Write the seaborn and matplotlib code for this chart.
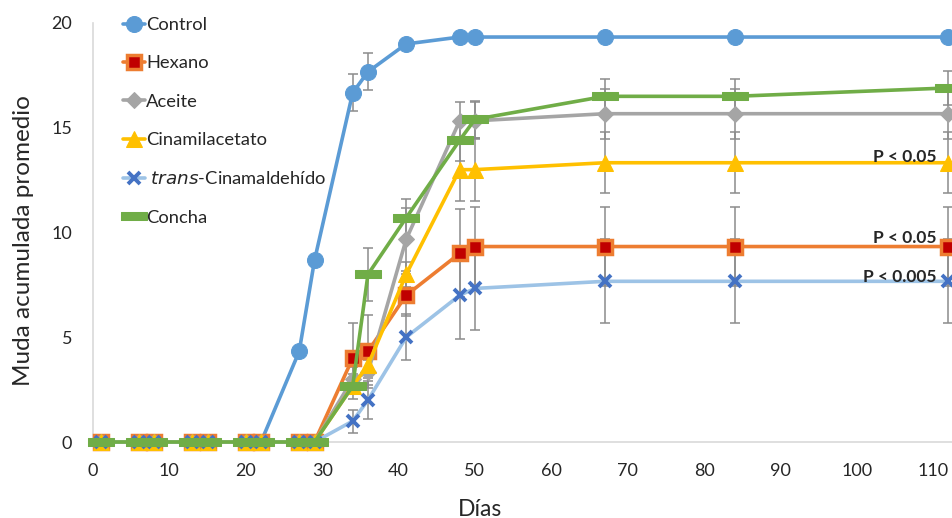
import seaborn as sns
import pandas as pd
import matplotlib.pyplot as plt

# days of observation
days = [1, 6, 8, 13, 15, 20, 22, 27, 29, 34, 36, 41, 48, 50, 67, 84, 112]

control = [0, 0, 0, 0, 0, 0, 0, 4.33, 8.67, 16.67, 17.67, 19.0, 19.33, 19.33, 19.33, 19.33, 19.33]
hexano = [0, 0, 0, 0, 0, 0, 0, 0, 0, 4.0, 4.33, 7.0, 9.0, 9.33, 9.33, 9.33, 9.33]
aceite = [0, 0, 0, 0, 0, 0, 0, 0, 0, 3.0, 3.33, 9.67, 15.33, 15.33, 15.67, 15.67, 15.67]
cinamilacetato = [0, 0, 0, 0, 0, 0, 0, 0, 0, 2.67, 3.67, 8.0, 13.0, 13.0, 13.33, 13.33, 13.33]
trans_cin = [0, 0, 0, 0, 0, 0, 0, 0, 0, 1.0, 2.0, 5.0, 7.0, 7.33, 7.67, 7.67, 7.67]
concha = [0, 0, 0, 0, 0, 0, 0, 0, 0, 2.67, 8.0, 10.7, 14.4, 15.4, 16.5, 16.5, 16.9]

# standard errors
err_control = [0, 0, 0, 0, 0, 0, 0, 0, 0, 0.88, 0.88, 0, 0, 0, 0, 0, 0]
err_hexano = [0, 0, 0, 0, 0, 0, 0, 0, 0, 1.7, 1.75, 1.0, 2.1, 1.9, 1.9, 1.9, 1.9]
err_aceite = [0, 0, 0, 0, 0, 0, 0, 0, 0, 0.6, 0.6, 1.5, 0.88, 0.88, 1.2, 1.2, 1.2]
err_cinamil = [0, 0, 0, 0, 0, 0, 0, 0, 0, 0.6, 0.6, 0.6, 1.5, 1.5, 1.45, 1.45, 1.45]
err_trans = [0, 0, 0, 0, 0, 0, 0, 0, 0, 0.55, 0.9, 1.1, 2.1, 2.0, 2.0, 2.0, 2.0]
err_concha = [0, 0, 0, 0, 0, 0, 0, 0, 0, 0.3, 1.25, 0.9, 1.0, 0.9, 0.83, 0.83, 0.83]

p_labels = ["P < 0.05", "P < 0.05", "P < 0.005"]
p_y = [13.62, 9.72, 7.9]

rect = [(-3, -1), (3, -1), (3, 1), (-3, 1), (-3, -1)]

series = [
    ("Control", control, err_control, dict(color="#5B9BD5", marker="o", markersize=11.5,
                                           markeredgecolor="#5B9BD5")),
    ("Hexano", hexano, err_hexano, dict(color="#ED7D31", marker="s", markersize=10,
                                        markerfacecolor="#C00000", markeredgecolor="#ED7D31",
                                        markeredgewidth=2.5)),
    ("Aceite", aceite, err_aceite, dict(color="#A5A5A5", marker="D", markersize=8,
                                        markeredgecolor="#A5A5A5")),
    ("Cinamilacetato", cinamilacetato, err_cinamil, dict(color="#FFC000", marker="^", markersize=11,
                                                         markeredgecolor="#FFC000")),
    (" $\\it{trans}$-Cinamaldehído", trans_cin, err_trans, dict(color="#9DC3E6", marker="x", markersize=9,
                                                                markeredgecolor="#4472C4",
                                                                markeredgewidth=2.8)),
    ("Concha", concha, err_concha, dict(color="#70AD47", marker=rect, markersize=19,
                                        markeredgecolor="#70AD47")),
]

sns.set_style("white")
plt.rcParams["font.family"] = ["Lato", "DejaVu Sans"]

fig = plt.figure(figsize=(9.53, 5.18), dpi=100)
ax = fig.add_axes([0.0976, 0.1467, 0.9024, 0.8089])

for i, (name, vals, err, style) in enumerate(series):
    df = pd.DataFrame({"dia": days, "muda": vals})
    ax.errorbar(days, vals, yerr=err, fmt="none", ecolor="#8C8C8C", elinewidth=1.1,
                capsize=3.5, capthick=1.1, zorder=2 + i * 0.1, clip_on=False)
    sns.lineplot(data=df, x="dia", y="muda", ax=ax, lw=2.6, label=name, errorbar=None,
                 clip_on=False, zorder=3 + i * 0.1, **style)

ax.set_xlim(0, 112.6)
ax.set_ylim(0, 20)
ax.set_xticks(range(0, 111, 10))
ax.set_yticks([0, 5, 10, 15, 20])
ax.tick_params(axis="x", labelsize=13, length=0, pad=15)
ax.tick_params(axis="y", labelsize=13, length=0, pad=15)
ax.set_xlabel("Días", fontsize=16.5)
ax.set_ylabel("Muda acumulada promedio", fontsize=17.5)
ax.xaxis.set_label_coords(0.4495, -0.135)
ax.yaxis.set_label_coords(-0.069, 0.48)
for s in ["top", "right"]:
    ax.spines[s].set_visible(False)
for s in ["left", "bottom"]:
    ax.spines[s].set_color("#D9D9D9")
    ax.spines[s].set_linewidth(1.2)

for lab, yy in zip(p_labels, p_y):
    ax.text(110.5, yy, lab, ha="right", va="center", fontsize=12.5, fontweight="bold", zorder=10)

ax.legend(loc="upper left", bbox_to_anchor=(0.119, 0.985), bbox_transform=fig.transFigure,
          frameon=False, fontsize=13.2, handlelength=1.25, handletextpad=0.05,
          labelspacing=1.22, borderpad=0)

fig.savefig("out.png", dpi=100)
